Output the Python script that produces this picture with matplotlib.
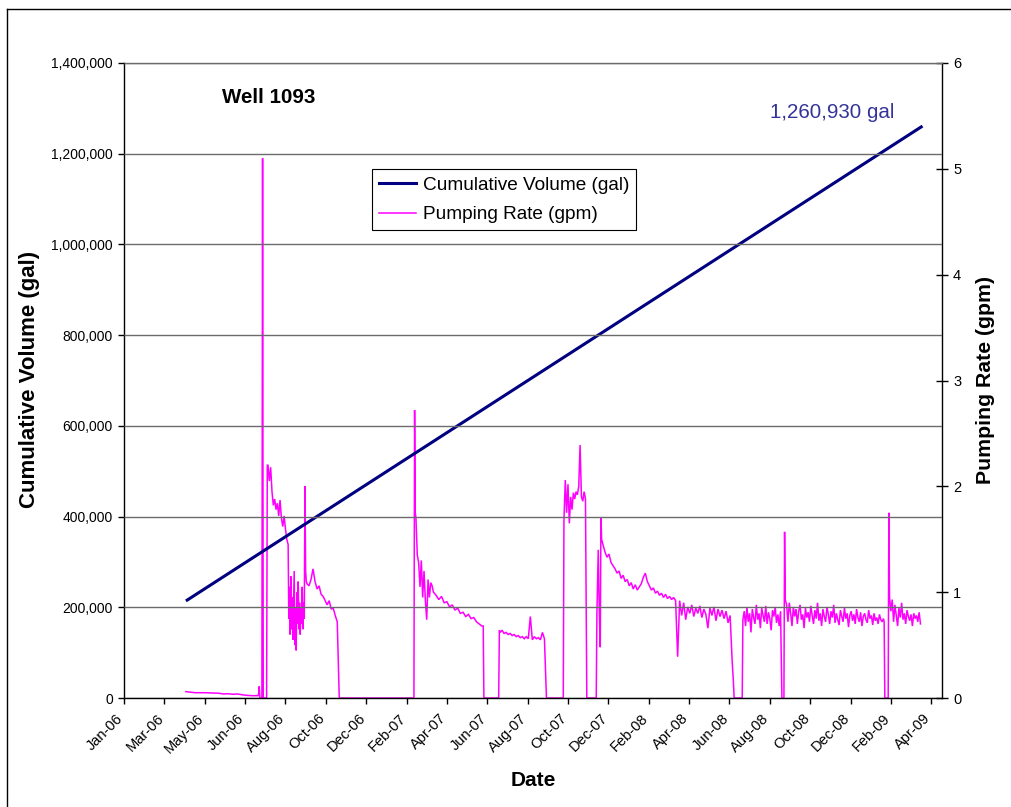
import matplotlib
matplotlib.use("Agg")
import matplotlib.pyplot as plt
import matplotlib.dates as mdates
import matplotlib.transforms as mtransforms
import pandas as pd
from matplotlib.lines import Line2D
from matplotlib.ticker import FuncFormatter, MultipleLocator

plt.rcParams['font.family'] = ['Liberation Sans', 'DejaVu Sans']

# ---------------------------------------------------------------------------
# Cumulative metered volume (gal)
volume_dates = ["2006-04-03", "2009-04-02"]
volume_gal = [214000, 1260930]

# ---------------------------------------------------------------------------
# Pumping rate (gpm), stored as runs of readings:
# each run = first date, days between readings, values
low_flow_2006 = [0.06, 0.055, 0.05, 0.05, 0.05, 0.048, 0.045, 0.045, 0.038, 0.04,
                 0.035, 0.038, 0.03, 0.025, 0.022, 0.022]
startup_jul_2006 = [0.022, 0.03, 0.11, 0.0, 0.0, 0.0, 0.0, 5.1, 0.0, 0.0, 0.0, 0.0,
                    0.0, 0.0, 2.2]
aug_2006 = [2.2, 2.05, 2.18, 1.95, 1.82, 1.88, 1.78, 1.84, 1.72, 1.87, 1.70, 1.62,
            1.72, 1.60, 1.50, 1.45]
sep_2006 = [0.75, 1.05, 0.6, 1.15, 0.65, 0.95, 0.55, 0.9, 1.2, 0.5, 0.85, 0.45,
            1.0, 0.7, 1.1, 0.65, 0.9, 0.6, 0.85, 0.7, 1.05, 0.65, 0.9, 0.75]
sep_2006_surge = [2.0, 1.2, 1.1]
fall_2006 = [1.08, 1.06, 1.12, 1.22, 1.1, 1.03, 1.06, 0.98, 0.96, 0.92, 0.88, 0.92,
             0.84, 0.85, 0.78, 0.72, 0.0]
restart_mar_2007 = [0.0, 2.72, 1.75]
mar_2007 = [1.7, 1.35, 1.28, 1.05, 1.3, 0.95, 1.2, 0.92, 0.74, 1.12, 0.95, 1.09,
            1.06, 1.0]
spring_2007 = [0.97, 0.93, 0.96, 0.9, 0.91, 0.86, 0.88, 0.83, 0.85, 0.8, 0.81, 0.77,
               0.79, 0.75, 0.76, 0.72, 0.7, 0.68]
stop_jun_2007 = [0.68, 0.0]
restart_jul_2007 = [0.0, 0.64]
summer_2007 = [0.62, 0.64, 0.61, 0.62, 0.6, 0.61, 0.59, 0.6, 0.58, 0.59, 0.57, 0.58,
               0.56, 0.58, 0.56, 0.77, 0.55, 0.58, 0.56, 0.57, 0.55, 0.62, 0.56, 0.0]
restart_oct_2007 = [0.0, 1.68]
oct_2007 = [2.06, 1.75, 2.02, 1.65, 1.9, 1.78, 1.94, 1.88, 1.95, 1.92, 2.0, 2.39,
            1.9, 1.86, 1.95, 1.88, 0.0]
restart_dec_2007 = [0.0, 0.8, 1.1, 1.4, 1.0, 0.7, 0.48, 1.71, 1.5]
winter_2008 = [1.45, 1.38, 1.33, 1.36, 1.28, 1.25, 1.22, 1.18, 1.2, 1.13,
               1.16, 1.1, 1.12, 1.06, 1.09, 1.03, 1.07, 1.02, 1.05, 1.08,
               1.14, 1.18, 1.1, 1.06, 1.02, 1.04, 0.99, 1.01, 0.97, 0.99,
               0.95, 0.98, 0.94, 0.96, 0.93, 0.95, 0.92, 0.39, 0.92, 0.78,
               0.9, 0.74, 0.86, 0.8, 0.88, 0.77, 0.85, 0.8, 0.87, 0.76,
               0.84, 0.79, 0.66, 0.85, 0.78, 0.86, 0.73, 0.84, 0.77, 0.83,
               0.75, 0.82, 0.71, 0.78, 0.36]
stop_jun_2008 = [0.14, 0.0]
restart_jul_2008 = [0.0]
summer_2008 = [0.74, 0.82, 0.68, 0.86, 0.72, 0.8, 0.62, 0.84, 0.76, 0.7, 0.88, 0.74,
               0.8, 0.66, 0.85, 0.78, 0.72, 0.87, 0.7, 0.81, 0.75, 0.64, 0.83, 0.77,
               0.86, 0.71, 0.79, 0.68, 0.82]
restart_sep_2008 = [0.0, 0.0, 0.0, 0.0, 1.57, 0.93]
fall_2008 = [0.88, 0.72, 0.9, 0.8, 0.68, 0.86, 0.77, 0.84, 0.7, 0.82, 0.88, 0.74,
             0.79, 0.66, 0.85, 0.76, 0.81, 0.72, 0.87, 0.78, 0.7, 0.83, 0.75, 0.9,
             0.73, 0.8, 0.68, 0.84, 0.77, 0.72, 0.86, 0.79, 0.7, 0.82, 0.76, 0.88,
             0.71, 0.8, 0.74, 0.69, 0.83, 0.77, 0.72, 0.85, 0.75, 0.8, 0.67, 0.78,
             0.82, 0.73, 0.79, 0.7, 0.84, 0.76, 0.72, 0.81, 0.68, 0.77, 0.8, 0.74,
             0.71, 0.83, 0.75, 0.78, 0.69, 0.8, 0.73, 0.76, 0.7, 0.79, 0.74, 0.72,
             0.75]
restart_feb_2009 = [0.72, 0.0, 0.0, 0.0, 0.0, 0.0, 0.0, 1.75]
spring_2009 = [0.95, 0.82, 0.93, 0.72, 0.88, 0.78, 0.68, 0.85, 0.76, 0.9, 0.74, 0.8,
               0.7, 0.83, 0.77, 0.73, 0.79, 0.68, 0.8, 0.75, 0.78, 0.72, 0.81, 0.7]

rate_runs = [
    ("2006-04-03", 7, low_flow_2006),
    ("2006-07-19", 1, startup_jul_2006),
    ("2006-08-03", 2, aug_2006),
    ("2006-09-03", 1, sep_2006),
    ("2006-09-27", 1, sep_2006_surge),
    ("2006-09-30", 3, fall_2006),
    ("2007-03-08", 1, restart_mar_2007),
    ("2007-03-11", 2, mar_2007),
    ("2007-04-10", 4, spring_2007),
    ("2007-06-19", 1, stop_jun_2007),
    ("2007-07-12", 1, restart_jul_2007),
    ("2007-07-14", 3, summer_2007),
    ("2007-10-16", 1, restart_oct_2007),
    ("2007-10-19", 2, oct_2007),
    ("2007-12-04", 1, restart_dec_2007),
    ("2007-12-14", 3, winter_2008),
    ("2008-06-25", 1, stop_jun_2008),
    ("2008-07-08", 1, restart_jul_2008),
    ("2008-07-09", 2, summer_2008),
    ("2008-09-05", 1, restart_sep_2008),
    ("2008-09-12", 2, fall_2008),
    ("2009-02-04", 1, restart_feb_2009),
    ("2009-02-12", 2, spring_2009),
]

rate_dates, rate_gpm = [], []
for start, step, values in rate_runs:
    rate_dates.extend(pd.date_range(start, periods=len(values), freq=f"{step}D"))
    rate_gpm.extend(values)

well_name = "Well 1093"
date_tick_start = "2006-01-01"
date_tick_count = 21
date_limits = ["2006-01-01", "2009-05-01"]

# ---------------------------------------------------------------------------
W, H = 1012, 807
fig = plt.figure(figsize=(W / 100, H / 100), dpi=100)
fig.patch.set_facecolor("white")

L, R, T, B = 124, 942, 63, 698
ax = fig.add_axes([L / W, 1 - B / H, (R - L) / W, (B - T) / H])
ax2 = ax.twinx()
ax.set_zorder(ax2.get_zorder() + 1)
ax.patch.set_visible(False)

navy = "#000080"
magenta = "#FF00FF"

ax2.plot(pd.to_datetime(rate_dates), rate_gpm, color=magenta, lw=1.1,
         solid_joinstyle="miter")
ax.plot(pd.to_datetime(volume_dates), volume_gal, color=navy, lw=2.2,
        solid_capstyle="butt")

# axes ranges and ticks
ax.set_xlim(pd.to_datetime(date_limits[0]), pd.to_datetime(date_limits[1]))
ax.set_ylim(0, 1400000)
ax2.set_ylim(0, 6)
ax.yaxis.set_major_locator(MultipleLocator(200000))
ax.yaxis.set_major_formatter(FuncFormatter(lambda v, p: f"{int(v):,}"))
ax2.yaxis.set_major_locator(MultipleLocator(1))
ax2.yaxis.set_major_formatter(FuncFormatter(lambda v, p: f"{int(v)}"))

xt = pd.date_range(date_tick_start, periods=date_tick_count, freq="60D")
ax.set_xticks(xt)
ax.xaxis.set_major_formatter(mdates.DateFormatter("%b-%y"))

ax.tick_params(axis="y", direction="out", length=4, width=1, labelsize=10, pad=4)
ax.tick_params(axis="x", direction="out", length=4, width=1, labelsize=10.5, pad=9)
ax2.tick_params(axis="y", direction="inout", length=8, width=1, labelsize=10.5, pad=4)
shift = mtransforms.ScaledTranslation(-3 / 100, 0, fig.dpi_scale_trans)
for lab in ax.get_xticklabels():
    lab.set_rotation(45)
    lab.set_ha("right")
    lab.set_va("center")
    lab.set_rotation_mode("anchor")
    lab.set_transform(lab.get_transform() + shift)

ax.yaxis.grid(True, color="#6b6b6b", lw=1.0)
ax.set_axisbelow(False)

for s in ("left", "right", "bottom"):
    ax.spines[s].set_color("black")
    ax.spines[s].set_linewidth(1.0)
ax.spines["top"].set_color("#6b6b6b")
ax.spines["top"].set_linewidth(1.0)
for s in ax2.spines.values():
    s.set_visible(False)

# legend
handles = [Line2D([], [], color=navy, lw=2.2), Line2D([], [], color=magenta, lw=1.1)]
leg = ax.legend(handles, ["Cumulative Volume (gal)", "Pumping Rate (gpm)"],
                loc="upper left", bbox_to_anchor=((372 - L) / (R - L), (B - 169) / (B - T)),
                borderaxespad=0, fontsize=13.7, frameon=True, fancybox=False,
                edgecolor="black", framealpha=1, handlelength=1.95,
                handletextpad=0.33, borderpad=0.38, labelspacing=0.65)
leg.get_frame().set_linewidth(0.8)

# annotations
ax.text((222 - L) / (R - L), (B - 98) / (B - T), well_name, transform=ax.transAxes,
        fontsize=14.8, weight="bold", ha="left", va="center")
ax.text((832 - L) / (R - L), (B - 113) / (B - T), f"{volume_gal[-1]:,} gal",
        transform=ax.transAxes, fontsize=14.8, color="#33339a", ha="center", va="center")

# axis titles
fig.text(30 / W, 1 - 379 / H, "Cumulative Volume (gal)", rotation=90, fontsize=16,
         weight="bold", ha="center", va="center")
fig.text(986 / W, 1 - 380 / H, "Pumping Rate (gpm)", rotation=90, fontsize=15.3,
         weight="bold", ha="center", va="center")
fig.text(533 / W, 1 - 781 / H, "Date", fontsize=15, weight="bold", ha="center",
         va="center")

# chart-area border
fig.add_artist(Line2D([7.5 / W, 7.5 / W], [0, 1 - 8.5 / H], transform=fig.transFigure,
                      color="black", lw=1.0))
fig.add_artist(Line2D([7.5 / W, 1], [1 - 8.5 / H, 1 - 8.5 / H], transform=fig.transFigure,
                      color="black", lw=1.0))

fig.savefig("out.png", dpi=100, facecolor="white")
